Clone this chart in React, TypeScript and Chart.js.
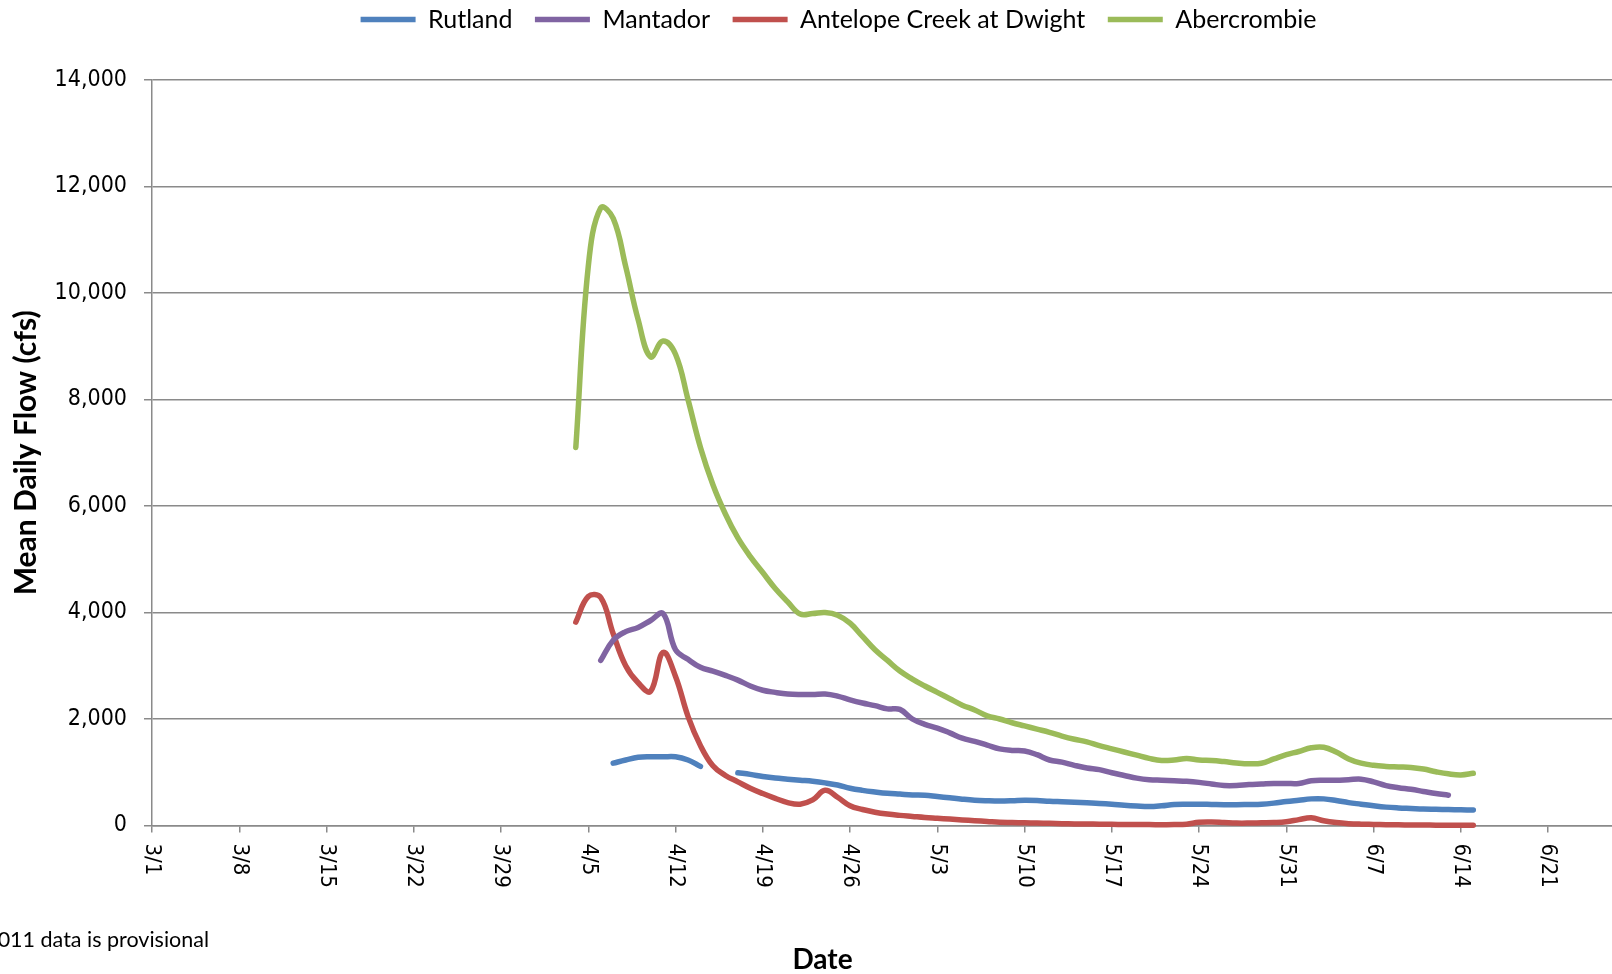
import React, { useEffect, useRef } from "react";
import { Chart, registerables } from "chart.js";

Chart.register(...registerables);

// ---- Data (daily mean flow, cfs) ----
const dates = [
  "4/4", "4/5", "4/6", "4/7", "4/8", "4/9", "4/10", "4/11", "4/12", "4/13",
  "4/14", "4/15", "4/16", "4/17", "4/18", "4/19", "4/20", "4/21", "4/22", "4/23",
  "4/24", "4/25", "4/26", "4/27", "4/28", "4/29", "4/30", "5/1", "5/2", "5/3",
  "5/4", "5/5", "5/6", "5/7", "5/8", "5/9", "5/10", "5/11", "5/12", "5/13",
  "5/14", "5/15", "5/16", "5/17", "5/18", "5/19", "5/20", "5/21", "5/22", "5/23",
  "5/24", "5/25", "5/26", "5/27", "5/28", "5/29", "5/30", "5/31", "6/1", "6/2",
  "6/3", "6/4", "6/5", "6/6", "6/7", "6/8", "6/9", "6/10", "6/11", "6/12",
  "6/13", "6/14", "6/15",
];

const rutland = [
  null, null, null, 1170, 1230, 1280, 1290, 1290, 1290, 1230,
  1110, null, null, 990, 960, 920, 890, 870, 850, 830,
  800, 760, 700, 660, 630, 605, 590, 575, 570, 545,
  520, 495, 475, 465, 460, 465, 475, 470, 455, 445,
  435, 425, 415, 400, 380, 365, 355, 370, 395, 400,
  400, 395, 390, 390, 395, 400, 420, 450, 475, 500,
  500, 470, 430, 400, 370, 345, 330, 320, 310, 305,
  300, 295, 290,
];

const mantador = [
  null, null, 3100, 3480, 3640, 3720, 3850, 3980, 3300, 3120,
  2970, 2900, 2820, 2730, 2620, 2540, 2500, 2470, 2460, 2460,
  2470, 2430, 2360, 2300, 2250, 2190, 2180, 2000, 1900, 1830,
  1740, 1640, 1580, 1510, 1440, 1410, 1400, 1330, 1230, 1190,
  1130, 1080, 1050, 990, 940, 890, 860, 850, 840, 830,
  810, 780, 750, 750, 770, 780, 790, 790, 790, 840,
  850, 850, 860, 870, 820, 750, 710, 680, 640, 600,
  570, null, null,
];

const antelopeCreek = [
  3820, 4300, 4280, 3600, 3000, 2680, 2520, 3250, 2800, 2050,
  1500, 1120, 940, 820, 700, 600, 510, 430, 400, 480,
  660, 530, 370, 300, 250, 215, 190, 170, 150, 135,
  120, 105, 90, 75, 60, 55, 50, 45, 40, 35,
  30, 28, 25, 22, 20, 18, 17, 16, 17, 25,
  60, 65, 55, 45, 45, 50, 55, 70, 110, 145,
  90, 55, 35, 25, 20, 15, 12, 10, 8, 7,
  6, 5, 5,
];

const abercrombie = [
  7100, 10500, 11600, 11400, 10500, 9500, 8800, 9100, 8850, 8000,
  7100, 6400, 5850, 5400, 5050, 4750, 4450, 4200, 3970, 3980,
  4000, 3950, 3800, 3550, 3300, 3100, 2900, 2750, 2620, 2500,
  2380, 2260, 2170, 2060, 2000, 1930, 1870, 1810, 1750, 1680,
  1620, 1570, 1500, 1440, 1380, 1320, 1260, 1220, 1230, 1260,
  1230, 1220, 1200, 1175, 1160, 1170, 1250, 1330, 1390, 1460,
  1470, 1380, 1250, 1170, 1130, 1110, 1100, 1090, 1060, 1010,
  970, 950, 980,
];

const tickLabels = [
  "3/1", "3/8", "3/15", "3/22", "3/29", "4/5", "4/12", "4/19", "4/26",
  "5/3", "5/10", "5/17", "5/24", "5/31", "6/7", "6/14", "6/21",
];

const seriesNames = ["Rutland", "Mantador", "Antelope Creek at Dwight", "Abercrombie"];
const seriesColors = ["#4F81BD", "#8064A2", "#C0504D", "#9BBB59"];

// day offset from 3/1
const monthStart: Record<number, number> = { 3: 0, 4: 31, 5: 61, 6: 92 };
const dayOf = (s: string) => {
  const [m, d] = s.split("/").map(Number);
  return monthStart[m] + d - 1;
};

const W = 1612;
const H = 974;
const PLOT_LEFT = 152;
const PLOT_TOP = 80;
const PLOT_BOTTOM = 825.5;
const RIGHT_OVERHANG = 15; // used only to centre the legend like the original
const PX_PER_DAY = 12.465;
const X_MAX = (W - PLOT_LEFT) / PX_PER_DAY;

const LEGEND_FONT = 25;
const LEGEND_PAD = 22.5;
const LAYOUT_TOP = -15.5;
const LAYOUT_LEFT = 50;
const Y_TITLE_SIZE = 30;

const gridColor = "#8a8a8a";
const tickFont = '"DejaVu Sans Condensed", "DejaVu Sans", Verdana, sans-serif';
const textFont = "Lato, Calibri, sans-serif";

const extrasPlugin = {
  id: "extras",
  afterDraw(chart: any) {
    const { ctx } = chart;
    const xs = chart.scales.x;
    ctx.save();
    ctx.fillStyle = "#000";
    ctx.font = `22px ${tickFont}`;
    ctx.textAlign = "left";
    ctx.textBaseline = "middle";
    tickLabels.forEach((lbl) => {
      const x = xs.getPixelForValue(dayOf(lbl));
      ctx.save();
      ctx.translate(x, xs.top + 18);
      ctx.rotate(Math.PI / 2);
      ctx.fillText(lbl, 0, 0);
      ctx.restore();
    });
    ctx.font = `bold 28px ${textFont}`;
    ctx.textAlign = "center";
    ctx.fillText("Date", 822.5, 960);
    ctx.font = `21.5px ${textFont}`;
    ctx.textAlign = "right";
    ctx.fillText("2011 data is provisional", 209, 940);
    ctx.restore();
  },
};

export default function App() {
  const ref = useRef<HTMLCanvasElement | null>(null);

  useEffect(() => {
    if (!ref.current) return;
    const seriesValues = [rutland, mantador, antelopeCreek, abercrombie];
    const chart = new Chart(ref.current, {
      type: "line",
      data: {
        datasets: seriesValues.map((vals, i) => ({
          label: seriesNames[i],
          data: dates.map((d, j) => ({ x: dayOf(d), y: vals[j] })),
          borderColor: seriesColors[i],
          backgroundColor: seriesColors[i],
          borderWidth: 5.5,
          borderCapStyle: "round",
          borderJoinStyle: "round",
          pointRadius: 0,
          pointHoverRadius: 0,
          tension: 0.4,
          spanGaps: false,
          clip: 8,
          xAxisID: "x",
          yAxisID: "y",
        })),
      },
      plugins: [extrasPlugin],
      options: {
        responsive: false,
        animation: false,
        events: [],
        layout: {
          padding: { left: LAYOUT_LEFT, top: LAYOUT_TOP, right: -RIGHT_OVERHANG, bottom: 0 },
        },
        plugins: {
          legend: {
            position: "top",
            fullSize: true,
            labels: {
              usePointStyle: true,
              pointStyle: "line",
              pointStyleWidth: 55,
              padding: LEGEND_PAD,
              color: "#000",
              font: { family: textFont, size: LEGEND_FONT },
            },
          },
          tooltip: { enabled: false },
        },
        scales: {
          x: {
            type: "linear",
            position: "bottom",
            min: 0,
            max: X_MAX,
            afterBuildTicks: (s: any) => {
              s.ticks = tickLabels.map((l) => ({ value: dayOf(l) }));
            },
            ticks: { display: false, autoSkip: false },
            grid: {
              drawOnChartArea: false,
              drawTicks: true,
              tickLength: 7,
              color: gridColor,
              lineWidth: 1.5,
            },
            border: { color: gridColor, width: 1.5 },
            afterFit: (s: any) => {
              s.height = H - PLOT_BOTTOM;
            },
          },
          spacer: {
            type: "linear",
            position: "top",
            display: true,
            ticks: { display: false },
            grid: { display: false, drawTicks: false },
            border: { display: false },
            afterFit: (s: any) => {
              const legendBottom = LAYOUT_TOP + LEGEND_FONT + LEGEND_PAD + 10;
              s.height = PLOT_TOP - legendBottom;
            },
          },
          y: {
            type: "linear",
            min: 0,
            max: 14000,
            ticks: {
              stepSize: 2000,
              padding: 17,
              color: "#000",
              font: { family: tickFont, size: 23 },
              callback: (v: any) => Number(v).toLocaleString("en-US"),
            },
            grid: {
              color: gridColor,
              lineWidth: 1.5,
              drawTicks: true,
              tickLength: 8,
            },
            border: { color: gridColor, width: 1.5 },
            title: {
              display: true,
              text: "Mean Daily Flow (cfs)",
              color: "#000",
              font: { family: textFont, size: Y_TITLE_SIZE, weight: "bold" },
              padding: { top: 26.7 - LAYOUT_LEFT - (Y_TITLE_SIZE * 1.2) / 2, bottom: 0 },
            },
            afterFit: (s: any) => {
              s.width = PLOT_LEFT - LAYOUT_LEFT;
            },
          },
        },
      },
    } as any);
    return () => chart.destroy();
  }, []);

  return (
    <div style={{ position: "fixed", left: 0, top: 0, width: W, height: H, background: "#fff" }}>
      <canvas ref={ref} width={W} height={H} style={{ display: "block", width: W, height: H }} />
    </div>
  );
}
